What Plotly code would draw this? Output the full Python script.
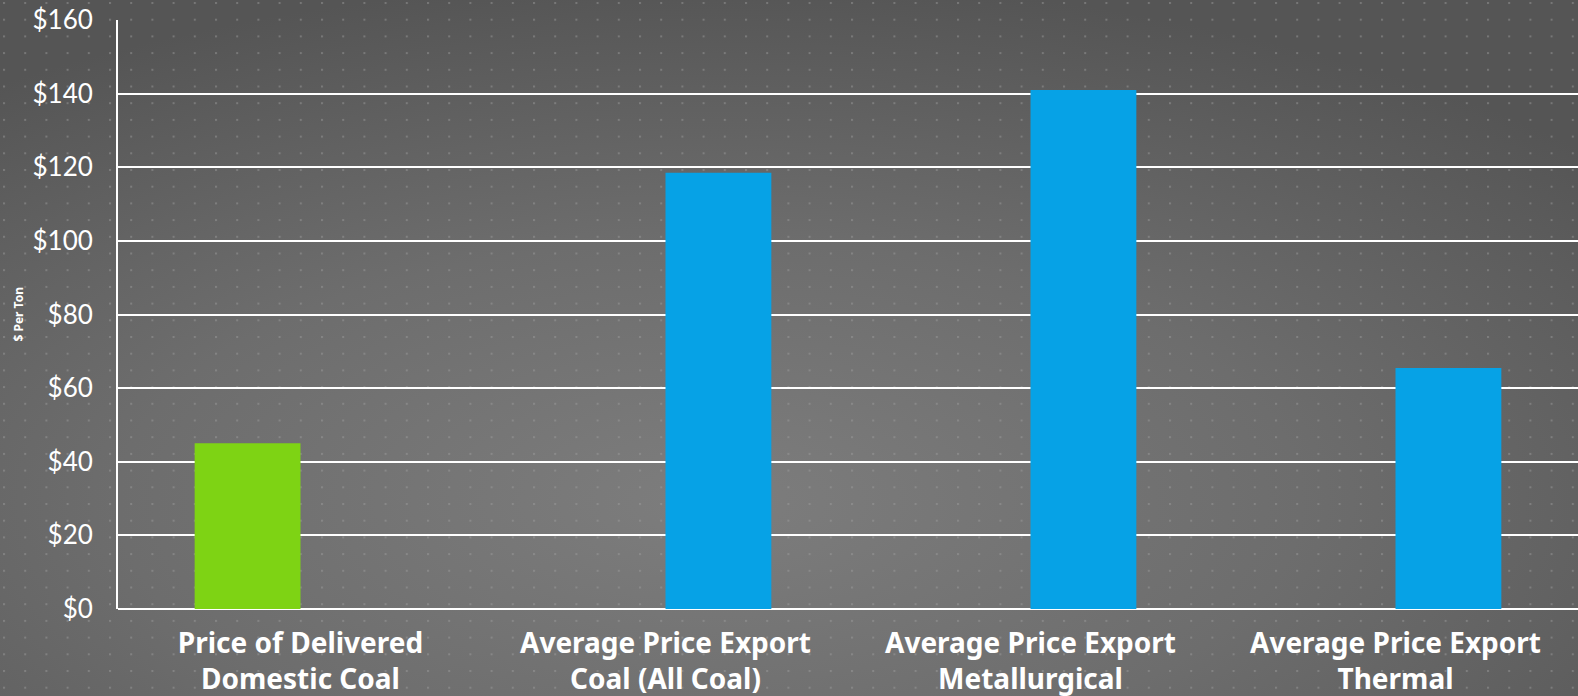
import base64
import plotly.graph_objects as go

categories = ["Price of Delivered<br>Domestic Coal",
              "Average Price Export<br>Coal (All Coal)",
              "Average Price Export<br>Metallurgical",
              "Average Price Export<br>Thermal"]
domestic_values = [45, None, None, None]
export_values = [None, 118.5, 141, 65.5]
y_ticks = [0, 20, 40, 60, 80, 100, 120, 140, 160]
y_tick_labels = ["$0", "$20", "$40", "$60", "$80", "$100", "$120", "$140", "$160"]
y_title = "$ Per Ton"

W, H = 1578, 696
ML, MR, MT, MB = 118, 0, 20, 87
PW, PH = W - ML - MR, H - MT - MB

svg = f'''<svg xmlns="http://www.w3.org/2000/svg" width="{W}" height="{H}" viewBox="0 0 {W} {H}">
<defs>
<radialGradient id="g" cx="0.45" cy="0.72" r="0.75">
<stop offset="0" stop-color="#7d7d7d"/>
<stop offset="0.5" stop-color="#6d6d6d"/>
<stop offset="1" stop-color="#555555"/>
</radialGradient>
<pattern id="p" width="21.2" height="16.7" patternUnits="userSpaceOnUse" x="3" y="2">
<rect width="2" height="2" fill="#a0a0a0" fill-opacity="0.45"/>
</pattern>
</defs>
<rect width="{W}" height="{H}" fill="url(#g)"/>
<rect width="{W}" height="{H}" fill="url(#p)"/>
</svg>'''
bg_uri = "data:image/svg+xml;base64," + base64.b64encode(svg.encode()).decode()

fig = go.Figure()
fig.add_trace(go.Bar(x=categories, y=domestic_values, name="Domestic",
                     marker=dict(color="#7ed314", line=dict(width=0))))
fig.add_trace(go.Bar(x=categories, y=export_values, name="Export",
                     marker=dict(color="#06a2e6", line=dict(width=0))))

fig.update_layout(
    width=W, height=H,
    margin=dict(l=ML, r=MR, t=MT, b=MB, pad=0),
    barmode="group", bargap=0.42, bargroupgap=0,
    showlegend=False,
    paper_bgcolor="#646464",
    plot_bgcolor="rgba(0,0,0,0)",
    font=dict(family="Lato, 'Noto Sans', sans-serif", color="white"),
    images=[dict(source=bg_uri, xref="paper", yref="paper",
                 x=-ML / PW, y=1 + MT / PH, sizex=W / PW, sizey=H / PH,
                 xanchor="left", yanchor="top", sizing="stretch", layer="below")],
    xaxis=dict(showgrid=False, zeroline=False, showline=False, ticks="",
               tickfont=dict(size=28, family="'Noto Sans', sans-serif", weight="bold", color="white"),
               ticklabelstandoff=15, fixedrange=True),
    yaxis=dict(range=[0, 160], tickvals=y_ticks, ticktext=y_tick_labels,
               showgrid=True, gridcolor="white", gridwidth=2,
               zeroline=True, zerolinecolor="white", zerolinewidth=2,
               showline=True, linecolor="white", linewidth=2,
               ticks="", ticklabelstandoff=18,
               tickfont=dict(size=26, family="Lato, sans-serif", color="white")),
    annotations=[dict(text=y_title, xref="paper", yref="paper", x=(18 - ML) / PW, y=0.5,
                      xanchor="center", yanchor="middle",
                      textangle=-90, showarrow=False,
                      font=dict(size=12, family="'Noto Sans', sans-serif", weight="bold", color="white"))],
)

fig.write_html("out.html", config={"displayModeBar": False},
               post_script="document.body.style.margin='0';document.body.style.padding='0';document.body.style.background='#555';")
